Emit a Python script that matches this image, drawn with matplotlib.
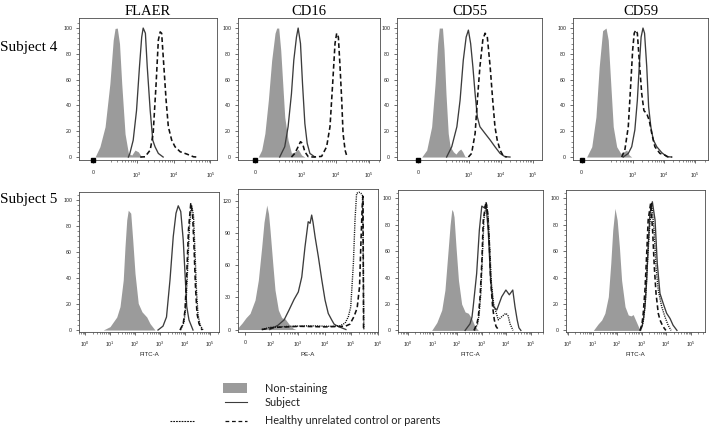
import numpy as np
import matplotlib.pyplot as plt
from matplotlib.lines import Line2D
from matplotlib.patches import Rectangle
from matplotlib.ticker import FixedLocator, AutoMinorLocator, LogLocator, SymmetricalLogLocator, NullFormatter
from matplotlib.transforms import blended_transform_factory

plt.rcParams['font.family'] = 'Liberation Sans'

# histogram curves: (log10 fluorescence, % of max)
# Subject 4 (top row)
s4_flaer_gray = [(1.49, 0), (2.01, 8), (2.15, 23.5), (2.28, 57), (2.37, 90.7), (2.42, 99.7), (2.48, 100), (2.54, 88),
                 (2.60, 57), (2.69, 18), (2.78, 3), (2.87, 1.5), (2.96, 5.4), (3.05, 4), (3.14, 0)]
s4_flaer_subject = [(2.78, 0), (2.82, 2.8), (2.91, 13), (3.0, 36), (3.08, 70), (3.14, 93), (3.18, 100), (3.24, 96),
                    (3.29, 70), (3.37, 36), (3.44, 13), (3.5, 8), (3.59, 2.8), (3.72, 0)]
s4_flaer_dash = [(3.1, 0), (3.23, 0.2), (3.37, 5.4), (3.45, 18.4), (3.53, 57), (3.59, 90.7), (3.64, 97), (3.68, 95.9),
                 (3.74, 70), (3.8, 44), (3.86, 23.5), (3.95, 13.2), (4.04, 8), (4.18, 4.1), (4.36, 2.3), (4.54, 0.2), (4.63, 0)]

s4_cd16_gray = [(1.38, 0), (1.69, 5.4), (1.86, 18.3), (1.99, 44), (2.09, 75), (2.19, 96), (2.24, 100), (2.30, 100),
                (2.36, 83), (2.42, 57), (2.48, 31), (2.58, 13), (2.68, 3), (2.78, 4), (2.88, 6), (2.98, 1.6), (3.08, 0)]
s4_cd16_subject = [(2.33, 0), (2.48, 8), (2.58, 23.5), (2.68, 49), (2.75, 75), (2.83, 93), (2.88, 100), (2.95, 88),
                   (3.01, 57), (3.08, 26), (3.15, 10.6), (3.23, 2.8), (3.38, 0)]
s4_cd16_dash = [(2.68, 0), (2.78, 2.8), (2.88, 8), (2.95, 11.9), (3.01, 10.6), (3.08, 4.1), (3.18, 0.3), (3.33, 0),
                (3.48, 0.3), (3.58, 0.5), (3.73, 8), (3.83, 23.5), (3.91, 57), (3.98, 88), (4.03, 96), (4.08, 93),
                (4.13, 70), (4.18, 44), (4.22, 18.3), (4.28, 5.4), (4.34, 0)]

s4_cd55_gray = [(1.27, 0), (1.66, 5.4), (1.86, 23.5), (1.96, 57), (2.03, 88), (2.08, 100), (2.18, 100), (2.23, 83),
                (2.29, 49), (2.36, 18.3), (2.42, 8), (2.52, 4.1), (2.60, 2.3), (2.68, 4.9), (2.75, 6.2), (2.81, 4.1),
                (2.88, 0.5), (2.99, 0)]
s4_cd55_subject = [(2.31, 0), (2.47, 8), (2.63, 23.5), (2.73, 44), (2.83, 75), (2.92, 93), (2.99, 98.4), (3.06, 88),
                   (3.13, 70), (3.2, 49), (3.27, 31), (3.35, 23.5), (3.51, 18.3), (3.67, 13.2), (3.82, 8), (3.98, 2.8),
                   (4.13, 0.3), (4.29, 0)]
s4_cd55_dash = [(2.99, 0), (3.09, 2.8), (3.2, 18.3), (3.27, 44), (3.35, 70), (3.44, 90.7), (3.51, 96), (3.58, 93.3),
                (3.67, 70), (3.75, 44), (3.82, 23.5), (3.89, 13.2), (3.98, 5.4), (4.08, 0.8), (4.19, 0)]

s4_cd59_gray = [(1.4, 0), (1.71, 8), (1.86, 31), (1.95, 70), (2.04, 98), (2.15, 100), (2.22, 90.7), (2.30, 57),
                (2.38, 23.5), (2.49, 8), (2.62, 2.8), (2.72, 4.1), (2.81, 5.4), (2.89, 1.5), (2.97, 0)]
s4_cd59_subject = [(2.7, 0), (2.86, 2.8), (2.97, 8), (3.07, 21), (3.15, 44), (3.21, 70), (3.27, 93), (3.33, 100),
                   (3.38, 96), (3.45, 70), (3.51, 39), (3.58, 23.5), (3.66, 13.2), (3.77, 8), (3.93, 3.4), (4.09, 0.3),
                   (4.25, 0)]
s4_cd59_dash = [(2.65, 0), (2.75, 5.4), (2.86, 23.5), (2.94, 57), (3.0, 83), (3.05, 96), (3.1, 98.4), (3.15, 96),
                (3.21, 75), (3.29, 49), (3.36, 36), (3.45, 33.6), (3.53, 28.4), (3.61, 18.3), (3.71, 8), (3.87, 2.8),
                (4.03, 1.5), (4.14, 0), (4.25, 0)]

# Subject 5 (bottom row)
s5_flaer_gray = [(0.73, 0), (1.0, 2.6), (1.27, 10), (1.4, 18), (1.53, 38.5), (1.6, 64), (1.67, 84.6), (1.73, 92),
                 (1.83, 89.7), (1.91, 69), (2.0, 43.6), (2.13, 20.5), (2.28, 14), (2.47, 10), (2.6, 5), (2.8, 0)]
s5_flaer_subject = [(2.92, 0), (3.12, 3), (3.26, 10), (3.4, 38.5), (3.53, 71.8), (3.64, 89.7), (3.73, 95.4),
                    (3.83, 91), (3.93, 69), (4.0, 43.6), (4.07, 18), (4.16, 7.7), (4.32, 0)]
s5_flaer_dash = [(3.8, 0), (3.93, 5), (4.0, 15), (4.06, 38.5), (4.14, 77), (4.23, 97), (4.3, 90), (4.36, 64),
                 (4.42, 33), (4.48, 12.8), (4.56, 5), (4.68, 0)]
s5_flaer_dot = [(3.82, 0), (3.96, 6), (4.04, 20), (4.1, 45), (4.18, 80), (4.26, 96), (4.34, 88), (4.4, 60),
                (4.46, 30), (4.52, 12), (4.6, 4), (4.72, 0)]

# PE-A gray histogram is in raw units (it reaches below zero)
s5_cd16_gray_raw = [(-26, 2), (-11.5, 6), (3.8, 11), (19.2, 15), (38.5, 27.5), (51.2, 46), (64.2, 77), (73, 100),
                    (83.5, 116), (90.4, 108), (96.2, 92.7), (116, 61.7), (141, 36.8), (188, 18.2), (251, 11),
                    (334, 10), (471, 5), (682, 1), (861, 0)]
s5_cd16_subject = [(1.98, 0), (2.26, 4), (2.49, 9), (2.67, 18), (2.86, 28), (3.02, 35), (3.15, 49), (3.27, 77),
                   (3.39, 100.5), (3.46, 99), (3.52, 106.7), (3.57, 100), (3.65, 86), (3.77, 67.8), (3.9, 46),
                   (4.02, 27.5), (4.14, 15), (4.27, 8.9), (4.36, 5), (4.5, 3), (4.65, 1.5), (4.8, 0)]
s5_cd16_dash = [(1.81, 0), (2.15, 2), (3.08, 3), (4.02, 2.5), (4.77, 3), (4.95, 5), (5.1, 12), (5.22, 20),
                (5.31, 40), (5.36, 80), (5.41, 115), (5.44, 124), (5.46, 0)]
s5_cd16_dot = [(1.81, 0), (1.98, 2), (2.71, 3), (3.46, 3.5), (4.21, 3), (4.58, 3.5), (4.77, 6), (4.89, 11.9),
               (4.98, 21), (5.08, 61.7), (5.14, 102), (5.2, 127), (5.29, 128), (5.36, 127), (5.42, 125), (5.45, 60),
               (5.47, 0)]

s5_cd55_gray = [(0.96, 0), (1.17, 6), (1.37, 15.5), (1.5, 30.6), (1.64, 63.4), (1.71, 80), (1.78, 91.7), (1.83, 90),
                (1.87, 86), (1.95, 63.4), (2.05, 38), (2.18, 20), (2.32, 14), (2.45, 13), (2.59, 9), (2.72, 3), (2.86, 0)]
s5_cd55_subject = [(2.32, 0), (2.52, 5), (2.6, 10), (2.65, 18), (2.79, 43), (2.9, 76), (3.0, 94.2), (3.09, 93),
                   (3.17, 95), (3.26, 76), (3.36, 38), (3.47, 18), (3.61, 15.5), (3.81, 25.5), (3.98, 30.6),
                   (4.12, 27), (4.26, 30.6), (4.35, 18), (4.44, 7.9), (4.51, 2), (4.59, 0)]
s5_cd55_dash = [(2.68, 0), (2.8, 5), (2.86, 10.4), (2.93, 25.5), (3.0, 50.8), (3.06, 83.6), (3.17, 97.5),
                (3.24, 88.7), (3.31, 63.4), (3.36, 38), (3.44, 18), (3.51, 7.9), (3.58, 3), (3.7, 0)]
s5_cd55_dot = [(2.7, 0), (2.83, 5), (2.89, 12), (2.96, 28), (3.02, 55), (3.09, 85), (3.19, 96), (3.26, 86),
               (3.33, 60), (3.39, 36), (3.48, 20), (3.56, 15), (3.67, 8), (3.81, 10.4), (3.98, 13), (4.07, 11),
               (4.15, 5), (4.27, 0)]

s5_cd59_gray = [(1.03, 0), (1.23, 5), (1.37, 7.9), (1.5, 13), (1.64, 25.5), (1.74, 50.8), (1.82, 76), (1.91, 92.5),
                (2.0, 83.6), (2.09, 63.4), (2.18, 38), (2.32, 18), (2.45, 11.7), (2.56, 11), (2.65, 12), (2.79, 6),
                (2.93, 0)]
s5_cd59_subject = [(2.93, 0), (3.01, 3), (3.06, 7.9), (3.13, 18), (3.2, 38), (3.26, 63.4), (3.33, 88.7),
                   (3.43, 97.5), (3.54, 83.6), (3.63, 50.8), (3.74, 28), (3.87, 20.5), (4.01, 13), (4.15, 9),
                   (4.27, 4), (4.43, 0)]
s5_cd59_dash = [(2.93, 0), (3.01, 5), (3.06, 13), (3.13, 30.6), (3.2, 58), (3.26, 83.6), (3.36, 96.3), (3.44, 76),
                (3.51, 48), (3.58, 28), (3.67, 13), (3.74, 7.9), (3.86, 3), (3.98, 0)]
s5_cd59_dot = [(2.95, 0), (3.03, 4), (3.09, 10.4), (3.16, 25.5), (3.22, 48), (3.31, 76), (3.4, 96.7), (3.5, 76),
               (3.58, 48), (3.67, 30.6), (3.81, 18), (3.94, 10.4), (4.07, 4), (4.19, 0)]

markers = ['FLAER', 'CD16', 'CD55', 'CD59']
subjects = ['Subject 4', 'Subject 5']
legend_labels = ['Non-staining', 'Subject', 'Healthy unrelated control or parents']

W, H = 709, 428
fig = plt.figure(figsize=(W / 100, H / 100), dpi=100)

GRAY = '#9b9b9b'
FRAME = '#4a4a4a'
SERIF = 'Liberation Serif'


def rect(x0, x1, top, bottom):
    return [x0 / W, 1 - bottom / H, (x1 - x0) / W, (bottom - top) / H]


def xy(pairs, log=True):
    a = np.array(pairs, dtype=float)
    x = 10 ** a[:, 0] if log else a[:, 0]
    return x, a[:, 1]


def dec_label(v):
    if v == 0:
        return '0'
    return r'$\mathregular{10^{%d}}$' % round(np.log10(v))


def style_axes(ax, yticks, ylim, xpad):
    ax.set_ylim(*ylim)
    ax.yaxis.set_major_locator(FixedLocator(yticks))
    ax.yaxis.set_minor_locator(AutoMinorLocator(5))
    for s in ax.spines.values():
        s.set_linewidth(0.6)
        s.set_color(FRAME)
    ax.tick_params(which='major', length=2.5, width=0.5, color='#333333', labelsize=3.8,
                   labelcolor='#222222', direction='out')
    ax.tick_params(which='minor', length=1.2, width=0.4, color='#333333', direction='out')
    ax.tick_params(axis='x', pad=xpad)
    ax.tick_params(axis='y', pad=2.5)


def draw_hist(ax, gray, subject, dash=None, dot=None, gray_log=True):
    gx, gy = xy(gray, gray_log)
    ax.fill_between(gx, gy, 0, color=GRAY, lw=0, zorder=1)
    if dot is not None:
        x, y = xy(dot)
        ax.plot(x, y, color='#111111', lw=1.0, ls=(0, (0.8, 0.8)), zorder=3)
    if dash is not None:
        x, y = xy(dash)
        ax.plot(x, y, color='#111111', lw=1.15, ls=(0, (3.0, 1.8)), zorder=4)
    x, y = xy(subject)
    ax.plot(x, y, color='#3c3c3c', lw=0.95, zorder=2)


def symlog_axis(ax, linscale, xlim, ticks):
    ax.set_xscale('symlog', linthresh=100, linscale=linscale, base=10)
    ax.set_xlim(*xlim)
    ax.xaxis.set_major_locator(FixedLocator(ticks))
    ax.set_xticklabels([dec_label(t) for t in ticks])
    ax.xaxis.set_minor_locator(SymmetricalLogLocator(linthresh=100, base=10, subs=np.arange(2, 10)))
    ax.xaxis.set_minor_formatter(NullFormatter())


def log_axis(ax, xlim):
    ax.set_xscale('log')
    ax.set_xlim(*xlim)
    ticks = [1, 10, 100, 1e3, 1e4, 1e5]
    ax.xaxis.set_major_locator(FixedLocator(ticks))
    ax.set_xticklabels([dec_label(t) for t in ticks])
    ax.xaxis.set_minor_locator(LogLocator(base=10, subs=np.arange(2, 10), numticks=20))
    ax.xaxis.set_minor_formatter(NullFormatter())


pct_ticks = [0, 20, 40, 60, 80, 100]
row1_ticks = [0, 1e3, 1e4, 1e5]

# top row: Subject 4
top = [
    (s4_flaer_gray, s4_flaer_subject, s4_flaer_dash, (79, 217), 0.158, (-160, 1.5e5)),
    (s4_cd16_gray, s4_cd16_subject, s4_cd16_dash, (238, 380), 0.368, (-125, 2.1e5)),
    (s4_cd55_gray, s4_cd55_subject, s4_cd55_dash, (397, 542), 0.518, (-123, 1.95e5)),
    (s4_cd59_gray, s4_cd59_subject, s4_cd59_dash, (573, 708), 0.566, (-44, 2.55e5)),
]
for i, (g, s, d, (x0, x1), ls, xl) in enumerate(top):
    ax = fig.add_axes(rect(x0, x1, 18, 160))
    draw_hist(ax, g, s, dash=d)
    symlog_axis(ax, ls, xl, row1_ticks)
    style_axes(ax, pct_ticks, (-2.3, 107.8), xpad=5)
    ax.set_title(markers[i], family=SERIF, fontsize=10.5, pad=2.5)
    # events piled up at zero
    ax.plot([0], [0], 's', ms=2.3, color='black', clip_on=False, zorder=5,
            transform=blended_transform_factory(ax.transData, ax.transAxes))

# bottom row: Subject 5
ax = fig.add_axes(rect(79, 219, 192, 332))
draw_hist(ax, s5_flaer_gray, s5_flaer_subject, s5_flaer_dash, s5_flaer_dot)
log_axis(ax, (10 ** -0.24, 10 ** 5.36))
style_axes(ax, pct_ticks, (-1.5, 106), xpad=3.2)
ax.set_xlabel('FITC-A', fontsize=4.4, labelpad=2, color='#222222')

ax = fig.add_axes(rect(238, 378, 189, 332))
draw_hist(ax, s5_cd16_gray_raw, s5_cd16_subject, s5_cd16_dash, s5_cd16_dot, gray_log=False)
symlog_axis(ax, 0.875, (-27, 1e6), [0, 1e2, 1e3, 1e4, 1e5, 1e6])
style_axes(ax, [0, 30, 60, 90, 120], (-2.3, 131), xpad=3.2)
ax.set_xlabel('PE-A', fontsize=4.4, labelpad=2, color='#222222')

ax = fig.add_axes(rect(398, 543, 190, 332))
draw_hist(ax, s5_cd55_gray, s5_cd55_subject, s5_cd55_dash, s5_cd55_dot)
log_axis(ax, (10 ** -0.41, 10 ** 5.49))
style_axes(ax, pct_ticks, (-1.2, 106.4), xpad=3.2)
ax.set_xlabel('FITC-A', fontsize=4.4, labelpad=2, color='#222222')

ax = fig.add_axes(rect(566, 705, 190, 332))
draw_hist(ax, s5_cd59_gray, s5_cd59_subject, s5_cd59_dash, s5_cd59_dot)
log_axis(ax, (10 ** -0.08, 10 ** 5.57))
style_axes(ax, pct_ticks, (-1.2, 106.4), xpad=3.2)
ax.set_xlabel('FITC-A', fontsize=4.4, labelpad=2, color='#222222')

# row labels
fig.text(0, 1 - 47 / H, subjects[0], family=SERIF, fontsize=11, ha='left', va='center')
fig.text(0, 1 - 199 / H, subjects[1], family=SERIF, fontsize=11, ha='left', va='center')


# legend drawn in figure pixels
def fx(x):
    return x / W


def fy(y):
    return 1 - y / H


fig.add_artist(Rectangle((fx(223), fy(393)), 24 / W, 10 / H, color=GRAY, lw=0))
fig.add_artist(Line2D([fx(225), fx(247)], [fy(402), fy(402)], color='#3c3c3c', lw=0.8))
fig.add_artist(Line2D([fx(170), fx(195)], [fy(421), fy(421)], color='#111111', lw=0.8, ls=(0, (1.6, 0.9))))
fig.add_artist(Line2D([fx(225), fx(247)], [fy(421), fy(421)], color='#111111', lw=0.9, ls=(0, (3.0, 2.2))))
for label, y in zip(legend_labels, [388, 403, 421]):
    fig.text(fx(265), fy(y), label, family='Lato', fontsize=7.8, color='#222222', ha='left', va='center')

fig.savefig('out.png', dpi=100)
